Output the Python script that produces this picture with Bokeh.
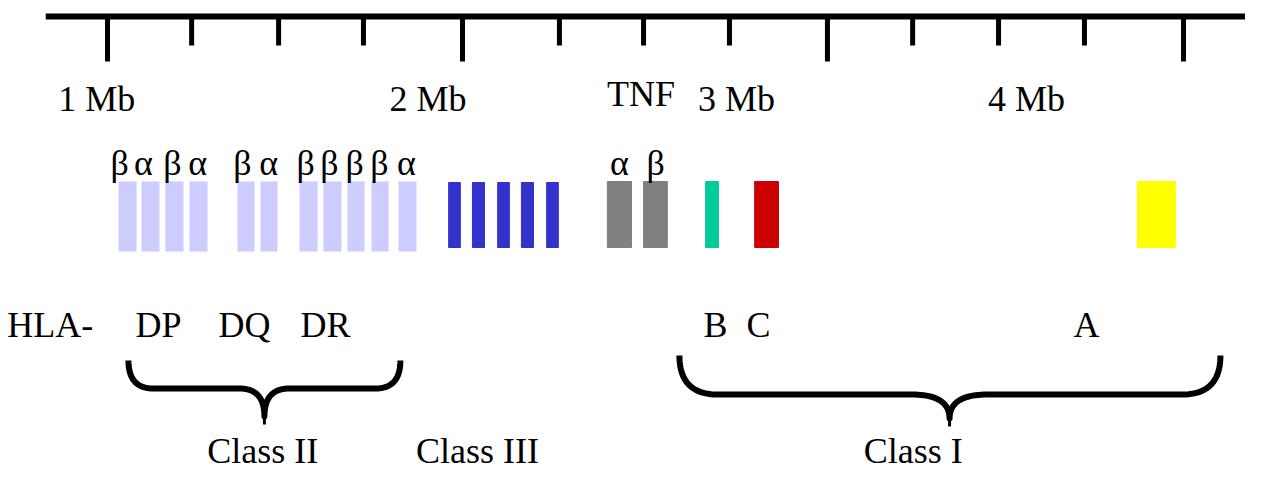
import numpy as np
from bokeh.plotting import figure
from bokeh.models import Range1d, ColumnDataSource
from bokeh.embed import file_html
from bokeh.resources import INLINE
from bokeh.core.properties import value

FONT = "Liberation Serif"

# ---------------- data (positions along the chromosome, in Mb) ----------------
ruler_span = [0.826, 4.228]
major_ticks = [1.0, 2.0, 3.028, 4.031]
minor_ticks = [1.237, 1.482, 1.721, 2.273, 2.510, 2.752, 3.268, 3.510, 3.752]
scale_labels = ["1 Mb", "2 Mb", "3 Mb", "4 Mb"]
scale_label_pos = [0.970, 1.903, 2.772, 3.589]
tnf_label = ["TNF"]
tnf_label_pos = [2.503]

# Class II genes (DP, DQ, DR alpha/beta chains)
class2_start = [1.031, 1.096, 1.163, 1.231, 1.366, 1.431, 1.541, 1.608, 1.676, 1.744, 1.820]
class2_end = [1.082, 1.146, 1.214, 1.282, 1.414, 1.479, 1.592, 1.659, 1.724, 1.792, 1.870]
class2_chain = ["β", "α", "β", "α", "β", "α", "β", "β", "β", "β", "α"]
class2_chain_pos = [1.034, 1.101, 1.183, 1.254, 1.380, 1.454, 1.558, 1.625, 1.696, 1.766, 1.842]

# Class III genes
class3_start = [1.961, 2.028, 2.099, 2.166, 2.237]
class3_end = [1.994, 2.062, 2.132, 2.200, 2.270]

# TNF genes
tnf_start = [2.408, 2.510]
tnf_end = [2.476, 2.577]
tnf_chain = ["α", "β"]
tnf_chain_pos = [2.442, 2.544]

# Class I genes
class1_loci = ["B", "C", "A"]
class1_start = [2.685, 2.823, 3.901]
class1_end = [2.721, 2.890, 4.008]

# locus names
locus_names = ["HLA-", "DP", "DQ", "DR", "B", "C", "A"]
locus_pos = [0.839, 1.144, 1.386, 1.614, 2.713, 2.834, 3.758]

# class regions (start, end, brace tip)
class_names = ["Class II", "Class III", "Class I"]
class_label_pos = [1.437, 2.042, 3.270]
brace_left = [1.059, 2.611]
brace_right = [1.825, 4.135]
brace_tip = [1.442, 3.372]
brace_curve = [0.070, 0.107]

# ---------------- styles ----------------
C_CLASS2 = "#ccccff"
C_CLASS3 = "#3333cc"
C_TNF = "#808080"
C_CLASS1 = ["#00cc99", "#cc0000", "#ffff00"]

W, H = 1245, 472
PX_PER_MB = 355
x0 = 1 + (0 - 107) / PX_PER_MB
x1 = x0 + W / PX_PER_MB

p = figure(width=W, height=H, output_backend="svg", toolbar_location=None,
           x_range=Range1d(x0, x1), y_range=Range1d(H, 0),
           x_axis_location=None, y_axis_location=None, min_border=0,
           outline_line_color=None, tools="")
p.xgrid.visible = False
p.ygrid.visible = False
p.background_fill_color = "white"
p.border_fill_color = "white"

# ruler
AXIS_Y = 16
p.segment(x0=[ruler_span[0]], x1=[ruler_span[1]], y0=[AXIS_Y], y1=[AXIS_Y],
          line_width=6, line_color="black", line_cap="butt")
p.segment(x0=major_ticks, x1=major_ticks, y0=[AXIS_Y] * len(major_ticks),
          y1=[61] * len(major_ticks), line_width=5, line_color="black", line_cap="butt")
p.segment(x0=minor_ticks, x1=minor_ticks, y0=[AXIS_Y] * len(minor_ticks),
          y1=[45] * len(minor_ticks), line_width=5, line_color="black", line_cap="butt")

txt = dict(text_font=value(FONT), text_font_size="36px", text_color="black",
           text_align="center", text_baseline="alphabetic")
p.text(x=scale_label_pos, y=[98] * 4, text=scale_labels, **txt)
p.text(x=tnf_label_pos, y=[93], text=tnf_label, **txt)

# gene bars
p.quad(left=class2_start, right=class2_end, top=181, bottom=251,
       fill_color=C_CLASS2, line_color="#e4e4ff", line_width=1)
p.quad(left=class3_start, right=class3_end, top=182, bottom=247,
       fill_color=C_CLASS3, line_color=C_CLASS3, line_width=1)
p.quad(left=tnf_start, right=tnf_end, top=181, bottom=247,
       fill_color=C_TNF, line_color=C_TNF, line_width=1)
src1 = ColumnDataSource(dict(left=class1_start, right=class1_end, color=C_CLASS1))
p.quad(left="left", right="right", top=181, bottom=247, source=src1,
       fill_color="color", line_color="color", line_width=1)

# chain labels
p.text(x=class2_chain_pos, y=[162] * len(class2_chain), text=class2_chain, **txt)
p.text(x=tnf_chain_pos, y=[162] * len(tnf_chain), text=tnf_chain, **txt)

# locus names
p.text(x=locus_pos, y=[324] * len(locus_names), text=locus_names, **txt)


# braces drawn as one continuous path each
def qbez(pa, pc, pb, n=24):
    t = np.linspace(0, 1, n)[:, None]
    pa, pc, pb = map(np.asarray, (pa, pc, pb))
    return (1 - t) ** 2 * pa + 2 * (1 - t) * t * pc + t ** 2 * pb


Y_END = [360, 355]
Y_MID = [388, 394]
Y_TIP = [416, 418]
for xl, xr, xt, r, ye, ym, yt in zip(brace_left, brace_right, brace_tip, brace_curve,
                                      Y_END, Y_MID, Y_TIP):
    pts = np.vstack([
        qbez((xl, ye), (xl, ym), (xl + r, ym)),
        qbez((xt - r, ym), (xt, ym), (xt, yt)),
        qbez((xt, yt), (xt, ym), (xt + r, ym)),
        qbez((xr - r, ym), (xr, ym), (xr, ye)),
    ])
    p.line(x=pts[:, 0], y=pts[:, 1], line_width=6, line_color="black",
           line_join="round", line_cap="butt")
    p.segment(x0=[xt], x1=[xt], y0=[yt - 4], y1=[yt + 8], line_width=3, line_color="black")

# class labels
p.text(x=class_label_pos, y=[450] * 3, text=class_names, **txt)

open("out.html", "w").write(file_html(p, INLINE))
